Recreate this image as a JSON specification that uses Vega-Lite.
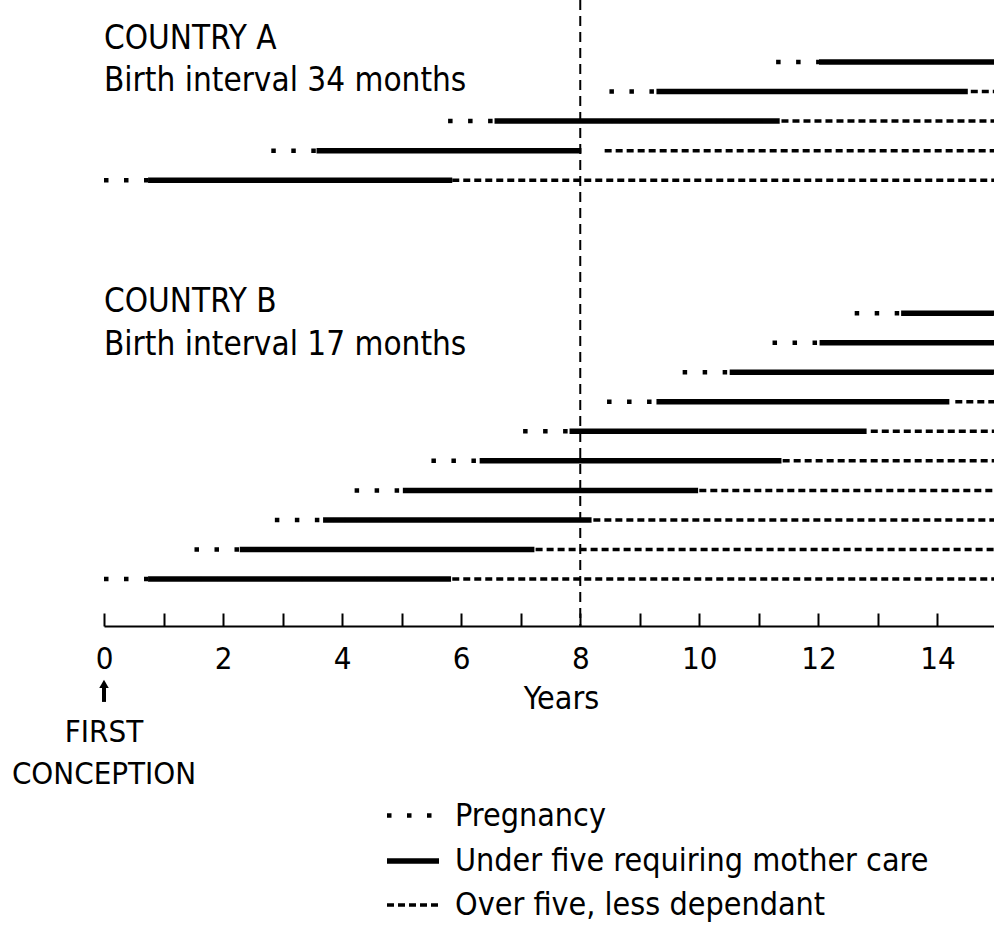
{
  "$schema": "https://vega.github.io/schema/vega-lite/v6.json",
  "width": 890,
  "height": 626,
  "autosize": {"type": "none"},
  "padding": {"left": 104, "top": 0, "right": 0, "bottom": 312},
  "background": "white",
  "config": {"view": {"stroke": null}, "font": "DejaVu Sans Condensed"},
  "datasets": {
    "ref": [{"x": 8}],
    "segments": [
      {"country": "A", "child": 1, "level": 4, "type": "Pregnancy", "x": 0, "x2": 0.74},
      {"country": "A", "child": 1, "level": 4, "type": "Under five requiring mother care", "x": 0.74, "x2": 5.85},
      {"country": "A", "child": 1, "level": 4, "type": "Over five, less dependant", "x": 5.85, "x2": 15},
      {"country": "A", "child": 2, "level": 3, "type": "Pregnancy", "x": 2.81, "x2": 3.57},
      {"country": "A", "child": 2, "level": 3, "type": "Under five requiring mother care", "x": 3.57, "x2": 8.02},
      {"country": "A", "child": 2, "level": 3, "type": "Over five, less dependant", "x": 8.41, "x2": 15},
      {"country": "A", "child": 3, "level": 2, "type": "Pregnancy", "x": 5.78, "x2": 6.56},
      {"country": "A", "child": 3, "level": 2, "type": "Under five requiring mother care", "x": 6.56, "x2": 11.35},
      {"country": "A", "child": 3, "level": 2, "type": "Over five, less dependant", "x": 11.38, "x2": 15},
      {"country": "A", "child": 4, "level": 1, "type": "Pregnancy", "x": 8.49, "x2": 9.28},
      {"country": "A", "child": 4, "level": 1, "type": "Under five requiring mother care", "x": 9.28, "x2": 14.51},
      {"country": "A", "child": 4, "level": 1, "type": "Over five, less dependant", "x": 14.56, "x2": 15},
      {"country": "A", "child": 5, "level": 0, "type": "Pregnancy", "x": 11.29, "x2": 12.01},
      {"country": "A", "child": 5, "level": 0, "type": "Under five requiring mother care", "x": 12.01, "x2": 15},
      {"country": "B", "child": 1, "level": 17.5, "type": "Pregnancy", "x": 0, "x2": 0.74},
      {"country": "B", "child": 1, "level": 17.5, "type": "Under five requiring mother care", "x": 0.74, "x2": 5.83},
      {"country": "B", "child": 1, "level": 17.5, "type": "Over five, less dependant", "x": 5.85, "x2": 15},
      {"country": "B", "child": 2, "level": 16.5, "type": "Pregnancy", "x": 1.52, "x2": 2.28},
      {"country": "B", "child": 2, "level": 16.5, "type": "Under five requiring mother care", "x": 2.28, "x2": 7.23},
      {"country": "B", "child": 2, "level": 16.5, "type": "Over five, less dependant", "x": 7.25, "x2": 15},
      {"country": "B", "child": 3, "level": 15.5, "type": "Pregnancy", "x": 2.87, "x2": 3.68},
      {"country": "B", "child": 3, "level": 15.5, "type": "Under five requiring mother care", "x": 3.68, "x2": 8.19},
      {"country": "B", "child": 3, "level": 15.5, "type": "Over five, less dependant", "x": 8.22, "x2": 15},
      {"country": "B", "child": 4, "level": 14.5, "type": "Pregnancy", "x": 4.21, "x2": 5.02},
      {"country": "B", "child": 4, "level": 14.5, "type": "Under five requiring mother care", "x": 5.02, "x2": 9.98},
      {"country": "B", "child": 4, "level": 14.5, "type": "Over five, less dependant", "x": 10.0, "x2": 15},
      {"country": "B", "child": 5, "level": 13.5, "type": "Pregnancy", "x": 5.5, "x2": 6.31},
      {"country": "B", "child": 5, "level": 13.5, "type": "Under five requiring mother care", "x": 6.31, "x2": 11.38},
      {"country": "B", "child": 5, "level": 13.5, "type": "Over five, less dependant", "x": 11.4, "x2": 15},
      {"country": "B", "child": 6, "level": 12.5, "type": "Pregnancy", "x": 7.04, "x2": 7.82},
      {"country": "B", "child": 6, "level": 12.5, "type": "Under five requiring mother care", "x": 7.82, "x2": 12.81},
      {"country": "B", "child": 6, "level": 12.5, "type": "Over five, less dependant", "x": 12.88, "x2": 15},
      {"country": "B", "child": 7, "level": 11.5, "type": "Pregnancy", "x": 8.45, "x2": 9.28},
      {"country": "B", "child": 7, "level": 11.5, "type": "Under five requiring mother care", "x": 9.28, "x2": 14.2},
      {"country": "B", "child": 7, "level": 11.5, "type": "Over five, less dependant", "x": 14.3, "x2": 15},
      {"country": "B", "child": 8, "level": 10.5, "type": "Pregnancy", "x": 9.72, "x2": 10.51},
      {"country": "B", "child": 8, "level": 10.5, "type": "Under five requiring mother care", "x": 10.51, "x2": 15},
      {"country": "B", "child": 9, "level": 9.5, "type": "Pregnancy", "x": 11.23, "x2": 12.02},
      {"country": "B", "child": 9, "level": 9.5, "type": "Under five requiring mother care", "x": 12.02, "x2": 15},
      {"country": "B", "child": 10, "level": 8.5, "type": "Pregnancy", "x": 12.61, "x2": 13.39},
      {"country": "B", "child": 10, "level": 8.5, "type": "Under five requiring mother care", "x": 13.39, "x2": 15}
    ],
    "headings": [
      {"label": "COUNTRY A", "x": 0, "level": -0.44},
      {"label": "Birth interval 34 months", "x": 0, "level": 0.97},
      {"label": "COUNTRY B", "x": 0, "level": 8.47},
      {"label": "Birth interval 17 months", "x": 0, "level": 9.92}
    ],
    "notes": [
      {"label": "FIRST", "x": 0, "level": 23.0},
      {"label": "CONCEPTION", "x": 0, "level": 24.45}
    ],
    "arrow": [
      {"x": 0, "level": 21.05, "level2": 21.66}
    ]
  },
  "encoding": {
    "x": {
      "field": "x",
      "type": "quantitative",
      "scale": {"domain": [0, 14.95], "nice": false, "zero": false},
      "axis": {
        "title": "Years",
        "values": [0, 1, 2, 3, 4, 5, 6, 7, 8, 9, 10, 11, 12, 13, 14],
        "labelExpr": "datum.value % 2 === 0 ? datum.label : ''",
        "grid": false,
        "domainColor": "black",
        "domainWidth": 2,
        "tickColor": "black",
        "tickWidth": 2,
        "tickSize": -13,
        "labelPadding": 31,
        "labelFont": "DejaVu Sans Condensed",
        "labelFontSize": 31,
        "labelColor": "black",
        "labelFlush": false,
        "labelOverlap": false,
        "titleFont": "DejaVu Sans Condensed",
        "titleFontSize": 32,
        "titleFontWeight": "normal",
        "titleColor": "black",
        "titleX": 457,
        "titleY": 82,
        "titleBaseline": "alphabetic",
        "titleAlign": "center"
      }
    }
  },
  "layer": [
    {
      "data": {"name": "ref"},
      "mark": {"type": "rule", "strokeDash": [10, 6], "strokeWidth": 2, "color": "black"},
      "encoding": {}
    },
    {
      "data": {"name": "segments"},
      "mark": {"type": "rule", "clip": true, "color": "black", "strokeCap": "butt"},
      "encoding": {
        "x2": {"field": "x2"},
        "y": {"field": "level", "type": "quantitative", "scale": {"domain": [-2.1, 19.09], "reverse": true, "nice": false, "zero": false}, "axis": null},
        "strokeDash": {
          "field": "type",
          "type": "nominal",
          "scale": {"domain": ["Pregnancy", "Under five requiring mother care", "Over five, less dependant"], "range": [[4.5, 15.5], [1, 0], [7, 4]]},
          "legend": {"orient": "none", "legendX": 280, "legendY": 787, "title": null, "symbolType": "stroke", "symbolSize": 2704, "symbolStrokeColor": "black", "labelFont": "DejaVu Sans Condensed", "labelFontSize": 32, "labelColor": "black", "labelOffset": 13, "rowPadding": 0, "padding": 0, "labelLimit": 0}
        },
        "strokeWidth": {
          "field": "type",
          "type": "nominal",
          "scale": {"type": "ordinal", "domain": ["Pregnancy", "Under five requiring mother care", "Over five, less dependant"], "range": [4.5, 5.5, 3.5]},
          "legend": {"orient": "none", "legendX": 280, "legendY": 787, "title": null, "symbolType": "stroke", "symbolSize": 2704, "symbolStrokeColor": "black", "labelFont": "DejaVu Sans Condensed", "labelFontSize": 32, "labelColor": "black", "labelOffset": 13, "rowPadding": 0, "padding": 0, "labelLimit": 0}
        }
      }
    },
    {
      "data": {"name": "headings"},
      "mark": {"type": "text", "align": "left", "baseline": "alphabetic", "font": "DejaVu Sans Condensed", "fontSize": 33, "color": "black"},
      "encoding": {
        "y": {"field": "level", "type": "quantitative", "scale": {"domain": [-2.1, 19.09], "reverse": true, "nice": false, "zero": false}, "axis": null},
        "text": {"field": "label"}
      }
    },
    {
      "data": {"name": "notes"},
      "mark": {"type": "text", "align": "center", "baseline": "alphabetic", "font": "DejaVu Sans Condensed", "fontSize": 31, "color": "black"},
      "encoding": {
        "y": {"field": "level", "type": "quantitative", "scale": {"domain": [-2.1, 19.09], "reverse": true, "nice": false, "zero": false}, "axis": null},
        "text": {"field": "label"}
      }
    },
    {
      "data": {"name": "arrow"},
      "mark": {"type": "rule", "strokeWidth": 4, "color": "black"},
      "encoding": {
        "y": {"field": "level", "type": "quantitative", "scale": {"domain": [-2.1, 19.09], "reverse": true, "nice": false, "zero": false}, "axis": null},
        "y2": {"field": "level2"}
      }
    },
    {
      "data": {"name": "arrow"},
      "mark": {"type": "point", "shape": "triangle-up", "filled": true, "size": 90, "color": "black", "opacity": 1},
      "encoding": {
        "y": {"field": "level", "type": "quantitative", "scale": {"domain": [-2.1, 19.09], "reverse": true, "nice": false, "zero": false}, "axis": null}
      }
    }
  ]
}
